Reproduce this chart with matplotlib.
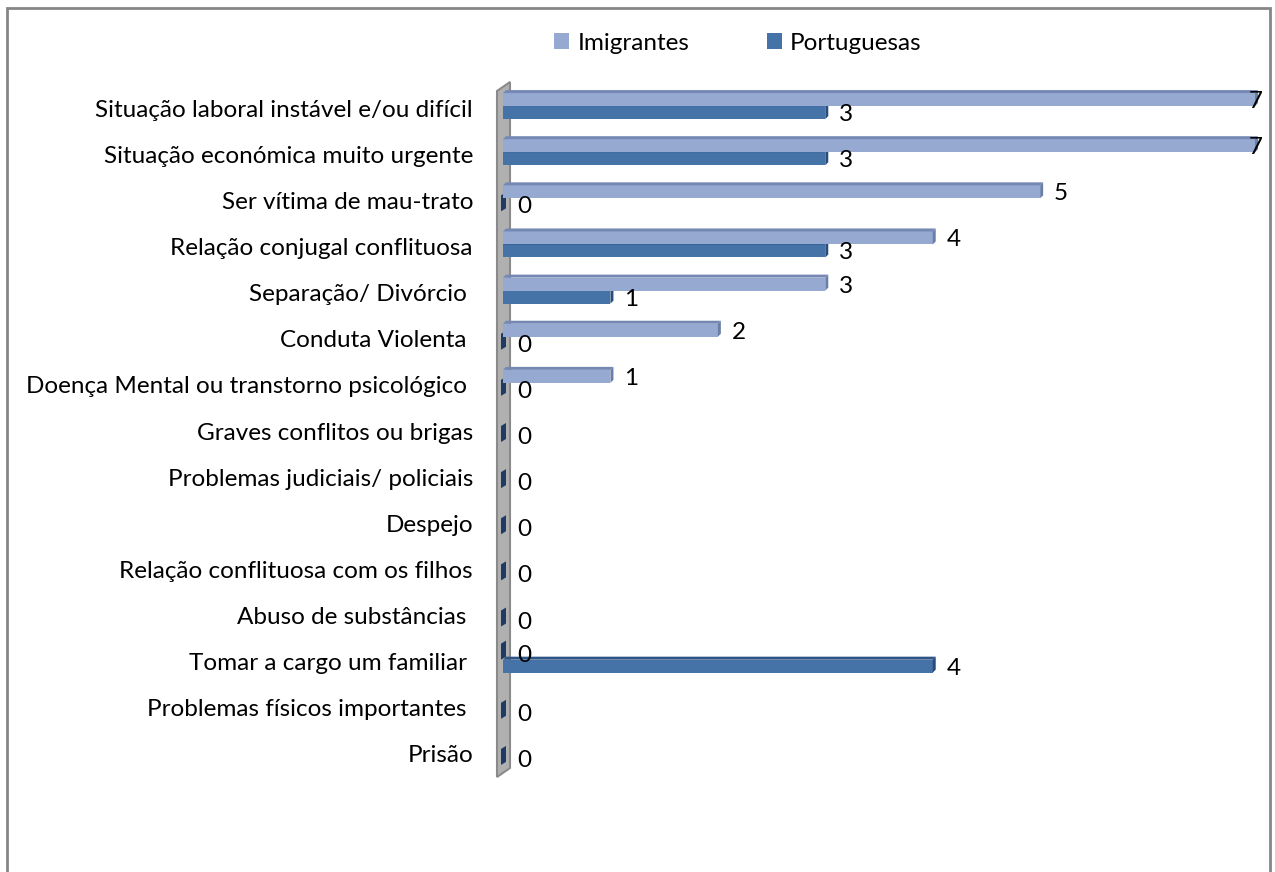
import numpy as np
import matplotlib.pyplot as plt
from matplotlib.patches import Polygon, Rectangle

plt.rcParams['font.family'] = ['Lato', 'DejaVu Sans']

categories = [
    'Situação laboral instável e/ou difícil',
    'Situação económica muito urgente',
    'Ser vítima de mau-trato',
    'Relação conjugal conflituosa',
    'Separação/ Divórcio ',
    'Conduta Violenta ',
    'Doença Mental ou transtorno psicológico ',
    'Graves conflitos ou brigas',
    'Problemas judiciais/ policiais',
    'Despejo',
    'Relação conflituosa com os filhos',
    'Abuso de substâncias ',
    'Tomar a cargo um familiar ',
    'Problemas físicos importantes ',
    'Prisão',
]
# None = no value entered for that row
imigrantes = [7, 7, 5, 4, 3, 2, 1, None, None, None, None, None, 0, None, None]
portuguesas = [3, 3, 0, 3, 1, 0, 0, 0, 0, 0, 0, 0, 4, 0, 0]
series_names = ['Imigrantes', 'Portuguesas']

light = dict(face='#95a9d1', top='#7488b3', side='#6a7fa8')
dark = dict(face='#4572a7', top='#2e5585', side='#2a4c78')
stub = '#1f3a63'
fs = 17.5

fig = plt.figure(figsize=(12.75, 8.72), dpi=100)
ax = fig.add_axes([503 / 1275, 1 - 775 / 872, (1255 - 503) / 1275, (775 - 83) / 872])
xmax = 7.0
ax.set_xlim(0, xmax)
ax.set_ylim(len(categories) - 0.5, -0.5)
ax.axis('off')

# pixel -> data sizes for the fake depth
px_x = xmax / (1255 - 503)
px_y = len(categories) / (775 - 83)
dx, dy = 3 * px_x, 3 * px_y
h = 13 * px_y

# the grey wall behind the category axis
wall = Polygon([(-6 * px_x, -0.5 + 8 * px_y), (7 * px_x, -0.5 - 1 * px_y),
                (7 * px_x, len(categories) - 0.5 - 7 * px_y),
                (-6 * px_x, len(categories) - 0.5 + 2 * px_y)],
               closed=True, facecolor='#b0b0b0', edgecolor='#8a8a8a', lw=1.5,
               clip_on=False, zorder=1)
ax.add_patch(wall)


def bar3d(y_top, v, c):
    if v == 0:
        ax.add_patch(Polygon([(-2 * px_x, y_top + h), (-2 * px_x, y_top - dy),
                              (dx, y_top - 2 * dy), (dx, y_top + h - dy)],
                             facecolor=stub, edgecolor='none', clip_on=False, zorder=3))
        return
    ax.add_patch(Rectangle((0, y_top), v, h, facecolor=c['face'], edgecolor='none',
                           clip_on=False, zorder=3))
    ax.add_patch(Polygon([(0, y_top), (v, y_top), (v + dx, y_top - dy), (dx, y_top - dy)],
                         facecolor=c['top'], edgecolor='none', clip_on=False, zorder=3))
    ax.add_patch(Polygon([(v, y_top), (v + dx, y_top - dy), (v + dx, y_top + h - dy), (v, y_top + h)],
                         facecolor=c['side'], edgecolor='none', clip_on=False, zorder=3))


def value_label(y, v):
    x = min(v + 0.13, xmax - 0.06)
    ax.text(x, y + 2 * px_y, str(v), fontsize=fs, ha='left', va='center', zorder=5)


for i, (a, b) in enumerate(zip(imigrantes, portuguesas)):
    # Portuguesas first so the Imigrantes bar sits in front
    bar3d(i, b, dark)
    value_label(i + h / 2, b)
    if a is not None:
        bar3d(i - h, a, light)
        value_label(i - h / 2, a)

for i, name in enumerate(categories):
    ax.text(-30 * px_x, i + 4 * px_y, name, fontsize=fs, ha='right', va='center')

handles = [Rectangle((0, 0), 1, 1, facecolor=light['face']),
           Rectangle((0, 0), 1, 1, facecolor=dark['face'])]
fig.legend(handles, series_names, loc='center', bbox_to_anchor=(738 / 1275, 1 - 43 / 872),
           ncol=2, frameon=False, fontsize=fs, handlelength=0.6, handleheight=0.6,
           handletextpad=0.35, columnspacing=3.2)

# chart border
fig.patches.append(Rectangle((7 / 1275, -0.01), (1270 - 7) / 1275, 1 - 8 / 872 + 0.01,
                             transform=fig.transFigure, fill=False, edgecolor='#868686', lw=2))

fig.savefig('out.png', dpi=100)
